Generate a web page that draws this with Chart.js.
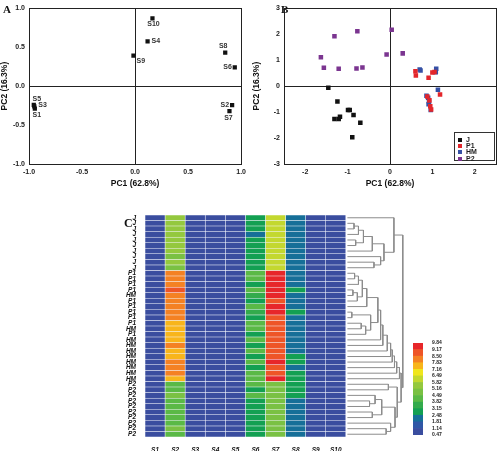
<!DOCTYPE html>
<html lang="en">
<head>
<meta charset="UTF-8">
<title>PCA loadings, scores and heatmap</title>
<script src="https://cdn.jsdelivr.net/npm/chart.js@4.4.0/dist/chart.umd.min.js"></script>
<style>
    body { margin: 0; background: #fff; }
    #page { position: relative; width: 500px; height: 451px; overflow: hidden; font-family: "Liberation Sans", Arial, sans-serif; }
    canvas { position: absolute; }
    #chartA { left: 0; top: 0; }
    #chartB { left: 250px; top: 0; }
    #chartC { left: 110px; top: 210px; }
    #scaleC { left: 413px; top: 339px; }
    .panel { position: absolute; font-family: "Liberation Serif", serif; font-weight: bold; font-size: 11px; color: #111; }
    #legendB {
        position: absolute; left: 454px; top: 132px; width: 41px; height: 29px;
        border: 1px solid #333; background: #fff; box-sizing: border-box;
        padding: 4px 0 0 3px; font-size: 7px; font-weight: bold; color: #222;
    }
    #legendB div { height: 6.2px; line-height: 6.2px; white-space: nowrap; }
    #legendB span { display: inline-block; width: 4px; height: 4px; margin-right: 4px; vertical-align: 0; }
</style>
</head>
<body>
<div id="page">
    <canvas id="chartA" width="250" height="195"></canvas>
    <canvas id="chartB" width="250" height="195"></canvas>
    <canvas id="chartC" width="296" height="241"></canvas>
    <canvas id="scaleC" width="30" height="100"></canvas>
    <div class="panel" style="left:3px;top:3px;">A</div>
    <div class="panel" style="left:281px;top:3px;">B</div>
    <div class="panel" style="left:124px;top:216px;font-size:12px;">C</div>
    <div id="legendB"></div>
</div>

<script>
// ---- A: loadings of the ten compounds ----
const loadNames = ['S1', 'S2', 'S3', 'S4', 'S5', 'S6', 'S7', 'S8', 'S9', 'S10'];
const loadPC1 = [-0.945, 0.915, -0.95, 0.118, -0.955, 0.94, 0.89, 0.85, -0.015, 0.164];
const loadPC2 = [-0.29, -0.245, -0.26, 0.575, -0.24, 0.24, -0.32, 0.43, 0.39, 0.87];
const ticksA = [-1, -0.5, 0, 0.5, 1];
// where each name sits next to its point: dx, dy, align
const labelSpots = [[2, 6, 'center'], [-3, 0, 'right'], [4, -1, 'left'], [4, 0, 'left'], [3, -6, 'center'],
                    [-3, 0, 'right'], [-1, 7, 'center'], [-2, -7, 'center'], [3, 5, 'left'], [1, 6, 'center']];

// ---- B: scores of the samples ----
const groupNames = ['J', 'P1', 'HM', 'P2'];
const groupColors = ['#111111', '#e3262b', '#3550a5', '#7b3590'];
const jPC1 = [-1.455, -1.24, -1.31, -1.21, -1.18, -0.99, -0.95, -0.86, -0.70, -0.89];
const jPC2 = [-0.06, -0.59, -1.27, -1.27, -1.18, -0.92, -0.92, -1.11, -1.41, -1.97];
const p1PC1 = [0.60, 0.61, 0.91, 1.00, 1.05, 1.18, 0.88, 0.93, 0.95, 0.97];
const p1PC2 = [0.57, 0.41, 0.32, 0.52, 0.54, -0.32, -0.40, -0.55, -0.78, -0.90];
const hmPC1 = [0.70, 0.72, 1.09, 1.08, 1.13, 0.86, 0.90, 0.92, 0.91, 0.96];
const hmPC2 = [0.64, 0.60, 0.67, 0.53, -0.14, -0.37, -0.45, -0.60, -0.70, -0.92];
const p2PC1 = [-1.63, -1.56, -1.31, -1.21, -0.77, -0.79, -0.65, -0.08, 0.04, 0.30];
const p2PC2 = [1.11, 0.71, 1.92, 0.67, 2.11, 0.68, 0.72, 1.22, 2.17, 1.26];
const ticksBx = [-2, -1, 0, 1, 2];
const ticksBy = [-3, -2, -1, 0, 1, 2, 3];

// ---- C: heatmap ----
const sampleNames = ['S1', 'S2', 'S3', 'S4', 'S5', 'S6', 'S7', 'S8', 'S9', 'S10'];
const rowLabels = ['J', 'J', 'J', 'J', 'J', 'J', 'J', 'J', 'J', 'J',
    'P1', 'P1', 'P1', 'P1', 'HM', 'P1', 'P1', 'P1', 'P1', 'P1',
    'HM', 'P1', 'HM', 'HM', 'HM', 'HM', 'HM', 'HM', 'HM', 'HM',
    'P2', 'P2', 'P2', 'P2', 'P2', 'P2', 'P2', 'P2', 'P2', 'P2'];
const s1 = [0.82, 0.80, 0.85, 0.79, 0.81, 0.83, 0.80, 0.78, 0.82, 0.84, 0.76, 0.79, 0.81, 0.78, 0.80, 0.77, 0.82, 0.79, 0.81, 0.78,
    0.80, 0.79, 0.82, 0.77, 0.80, 0.78, 0.81, 0.79, 0.80, 0.78, 0.83, 0.81, 0.84, 0.80, 0.82, 0.85, 0.81, 0.83, 0.80, 0.82];
const s2 = [5.3, 5.2, 5.2, 5.2, 5.3, 5.2, 5.2, 5.1, 5.2, 5.0, 8.2, 8.1, 8.2, 9.0, 8.2, 8.1, 8.2, 8.0, 8.1, 7.5,
    7.4, 7.5, 7.5, 8.1, 7.5, 7.4, 8.1, 8.2, 8.0, 7.5, 4.4, 4.4, 4.5, 4.3, 4.4, 4.2, 4.3, 4.4, 4.5, 4.3];
const s3 = [0.78, 0.81, 0.79, 0.83, 0.80, 0.77, 0.82, 0.80, 0.79, 0.81, 0.80, 0.78, 0.82, 0.79, 0.81, 0.80, 0.78, 0.83, 0.80, 0.79,
    0.81, 0.80, 0.78, 0.82, 0.79, 0.81, 0.80, 0.82, 0.78, 0.80, 0.79, 0.82, 0.80, 0.81, 0.78, 0.80, 0.83, 0.79, 0.81, 0.80];
const s4 = [0.84, 0.82, 0.80, 0.83, 0.81, 0.85, 0.82, 0.80, 0.84, 0.81, 0.79, 0.82, 0.80, 0.83, 0.81, 0.79, 0.80, 0.82, 0.78, 0.81,
    0.80, 0.83, 0.79, 0.81, 0.80, 0.82, 0.78, 0.80, 0.81, 0.79, 0.82, 0.80, 0.83, 0.81, 0.84, 0.80, 0.82, 0.81, 0.79, 0.83];
const s5 = [0.80, 0.79, 0.82, 0.81, 0.78, 0.80, 0.83, 0.79, 0.81, 0.80, 0.82, 0.80, 0.79, 0.81, 0.83, 0.80, 0.78, 0.81, 0.80, 0.82,
    0.79, 0.81, 0.80, 0.78, 0.82, 0.80, 0.81, 0.79, 0.83, 0.80, 0.81, 0.79, 0.80, 0.82, 0.80, 0.81, 0.79, 0.80, 0.82, 0.81];
const s6 = [2.9, 2.8, 3.0, 2.0, 2.9, 2.8, 3.0, 2.9, 3.0, 2.8, 3.9, 4.0, 2.9, 3.9, 3.8, 3.0, 3.9, 3.8, 3.0, 3.9,
    3.9, 3.0, 3.9, 3.0, 4.0, 3.0, 3.9, 3.0, 3.9, 4.0, 3.9, 2.9, 3.9, 2.9, 3.0, 2.9, 3.0, 2.9, 3.0, 2.9];
const s7 = [6.1, 6.2, 6.0, 6.1, 6.0, 6.2, 6.1, 6.0, 6.1, 5.9, 9.6, 9.5, 9.6, 9.5, 9.5, 9.0, 9.5, 9.4, 8.9, 9.0,
    8.9, 9.0, 8.9, 8.9, 9.0, 8.9, 9.6, 8.9, 9.0, 9.6, 5.0, 4.9, 5.1, 5.0, 4.9, 5.0, 5.1, 4.9, 5.0, 5.0];
const s8 = [2.0, 2.0, 2.0, 2.1, 2.0, 2.0, 2.1, 2.0, 2.0, 2.0, 2.0, 2.0, 2.1, 2.9, 2.0, 2.0, 2.1, 2.9, 2.0, 2.0,
    2.0, 2.1, 2.0, 2.0, 2.1, 2.9, 2.9, 2.0, 2.9, 2.9, 2.9, 2.9, 2.9, 2.0, 2.0, 2.1, 2.0, 2.0, 2.1, 2.0];
const s9 = [0.81, 0.83, 0.80, 0.79, 0.82, 0.80, 0.81, 0.83, 0.79, 0.80, 0.82, 0.81, 0.79, 0.80, 0.82, 0.81, 0.80, 0.78, 0.82, 0.80,
    0.81, 0.79, 0.80, 0.82, 0.81, 0.79, 0.80, 0.81, 0.82, 0.80, 0.80, 0.82, 0.79, 0.81, 0.80, 0.82, 0.80, 0.79, 0.81, 0.80];
const s10 = [0.79, 0.80, 0.82, 0.80, 0.81, 0.79, 0.80, 0.82, 0.81, 0.79, 0.80, 0.82, 0.80, 0.81, 0.79, 0.82, 0.81, 0.80, 0.79, 0.81,
    0.82, 0.80, 0.81, 0.79, 0.80, 0.81, 0.82, 0.80, 0.79, 0.81, 0.80, 0.81, 0.82, 0.79, 0.81, 0.80, 0.80, 0.82, 0.80, 0.79];
const columns = [s1, s2, s3, s4, s5, s6, s7, s8, s9, s10];

// colour key: band limits and the colour of each band (low to high)
const colorStops = [0.47, 1.14, 1.81, 2.48, 3.15, 3.82, 4.49, 5.16, 5.82, 6.49, 7.16, 7.83, 8.50, 9.17, 9.84];
const bandColors = ['#3a4d9f', '#2f57a6', '#166f98', '#13a052', '#33ab4c', '#5ab946', '#7ac143', '#94c83e',
    '#c3d82f', '#f0e61d', '#f8b51b', '#f48123', '#ee5527', '#e7262a'];

// row clustering: [left, right, height], leaves are row numbers
const j1 = [1, 2, 0.12], j2 = [j1, 3, 0.20], j3 = [4, 5, 0.15], j4 = [j2, j3, 0.29], j5 = [j4, 6, 0.45];
const j6 = [8, 9, 0.48], j7 = [7, j6, 0.60], j8 = [j5, j7, 0.66], jRoot = [0, j8, 0.84];
const p1 = [10, 11, 0.13], p2 = [p1, 12, 0.20], p3 = [13, 14, 0.10], p4 = [p3, 15, 0.18], p5 = [p2, p4, 0.27];
const p6 = [p5, 16, 0.35], p7 = [17, 18, 0.08], p8 = [19, 20, 0.25], p9 = [p8, 21, 0.33], p10 = [p7, p9, 0.42];
const p11 = [p6, p10, 0.55], p12 = [p11, 22, 0.60], p13 = [p12, 23, 0.64], p14 = [p13, 24, 0.72];
const p15 = [p14, 25, 0.78], p16 = [p15, 26, 0.81], p17 = [p16, 27, 0.85], p18 = [p17, 28, 0.89], pRoot = [p18, 29, 0.94];
const q1 = [30, 31, 0.74], q2 = [33, 34, 0.40], q3 = [32, q2, 0.50], q4 = [35, 36, 0.45], q5 = [q3, q4, 0.62];
const q6 = [38, 39, 0.70], q7 = [37, q6, 0.78], q8 = [q5, q7, 0.86], qRoot = [q1, q8, 0.90];
const tree = [jRoot, [pRoot, qRoot, 0.97], 1.0];

const dendroLeft = 10.08;   // x units, just right of the last column
const dendroSpan = 2.76;

const tickFont = { family: 'Liberation Sans', size: 7, weight: 'bold' };
const titleFont = { family: 'Liberation Sans', size: 8.5, weight: 'bold' };

function zeroLine(ctx) {
    return ctx.tick && ctx.tick.value === 0 ? '#222' : 'rgba(0,0,0,0)';
}

function pcaScales(xr, xt, yr, yt, fmt, yWidth, yTitlePad) {
    return {
        x: {
            type: 'linear', min: xr[0], max: xr[1],
            afterBuildTicks: s => { s.ticks = xt.map(v => ({ value: v })); },
            afterFit: s => { s.height = 31; },
            grid: { color: zeroLine, drawTicks: false },
            border: { color: '#222' },
            ticks: { font: tickFont, color: '#222', padding: 4, maxRotation: 0, callback: fmt },
            title: { display: true, text: 'PC1 (62.8%)', font: titleFont, color: '#111', padding: { top: 0, bottom: 6 } }
        },
        y: {
            type: 'linear', min: yr[0], max: yr[1],
            afterBuildTicks: s => { s.ticks = yt.map(v => ({ value: v })); },
            afterFit: s => { s.width = yWidth; },
            grid: { color: zeroLine, drawTicks: false },
            border: { color: '#222' },
            ticks: { font: tickFont, color: '#222', padding: 4, callback: fmt },
            title: { display: true, text: 'PC2 (16.3%)', font: titleFont, color: '#111', padding: { top: yTitlePad, bottom: 0 } }
        },
        xTop: {
            type: 'linear', position: 'top', min: xr[0], max: xr[1],
            afterFit: s => { s.height = 0; },
            grid: { display: false }, ticks: { display: false }, border: { color: '#222' }
        },
        yRight: {
            type: 'linear', position: 'right', min: yr[0], max: yr[1],
            afterFit: s => { s.width = 0; },
            grid: { display: false }, ticks: { display: false }, border: { color: '#222' }
        }
    };
}

function toPoints(xs, ys) {
    return xs.map((x, i) => ({ x: x, y: ys[i] }));
}

// names next to the loading points
const pointNames = {
    id: 'pointNames',
    afterDatasetsDraw(chart) {
        const ctx = chart.ctx;
        const meta = chart.getDatasetMeta(0);
        ctx.save();
        ctx.font = 'bold 7px "Liberation Sans"';
        ctx.fillStyle = '#333';
        ctx.textBaseline = 'middle';
        meta.data.forEach((pt, i) => {
            const spot = labelSpots[i];
            ctx.textAlign = spot[2];
            ctx.fillText(loadNames[i], pt.x + spot[0], pt.y + spot[1]);
        });
        ctx.restore();
    }
};

new Chart(document.getElementById('chartA'), {
    type: 'scatter',
    data: {
        datasets: [{
            data: toPoints(loadPC1, loadPC2),
            pointStyle: 'rect', pointRadius: 3, backgroundColor: '#111', borderWidth: 0
        }]
    },
    options: {
        responsive: false, animation: false,
        layout: { padding: { top: 5, right: 3, left: 0, bottom: 0 } },
        plugins: { legend: { display: false }, tooltip: { enabled: false } },
        scales: pcaScales([-1, 1], ticksA, [-1, 1], ticksA, v => v.toFixed(1), 29, 0)
    },
    plugins: [pointNames]
});

const scoreSets = [[jPC1, jPC2], [p1PC1, p1PC2], [hmPC1, hmPC2], [p2PC1, p2PC2]];

new Chart(document.getElementById('chartB'), {
    type: 'scatter',
    data: {
        datasets: scoreSets.map((s, i) => ({
            label: groupNames[i],
            data: toPoints(s[0], s[1]),
            pointStyle: 'rect', pointRadius: 3.2, backgroundColor: groupColors[i], borderWidth: 0
        }))
    },
    options: {
        responsive: false, animation: false,
        layout: { padding: { top: 4, right: 2, left: 0, bottom: 0 } },
        plugins: { legend: { display: false }, tooltip: { enabled: false } },
        scales: pcaScales([-2.5, 2.5], ticksBx, [-3, 3], ticksBy, v => v, 34, 1.5)
    }
});

// legend of panel B
document.getElementById('legendB').innerHTML = groupNames.map((g, i) =>
    '<div><span style="background:' + groupColors[i] + '"></span>' + g + '</div>').join('');

function cellColor(v) {
    for (let i = 0; i < bandColors.length; i++) {
        if (v < colorStops[i + 1]) return bandColors[i];
    }
    return bandColors[bandColors.length - 1];
}

// walk the tree and collect the elbow lines, a null point between branches
function dendroLines(node, out) {
    if (typeof node === 'number') return { y: node, h: 0 };
    const a = dendroLines(node[0], out);
    const b = dendroLines(node[1], out);
    const h = node[2];
    const px = t => dendroLeft + t * dendroSpan;
    out.push({ x: px(a.h), y: a.y }, { x: px(h), y: a.y }, { x: px(h), y: b.y }, { x: px(b.h), y: b.y }, { x: null, y: null });
    return { y: (a.y + b.y) / 2, h: h };
}
const dendroData = [];
dendroLines(tree, dendroData);

const heatFont = { family: 'Liberation Sans', size: 6.5, weight: 'bold', style: 'italic' };

new Chart(document.getElementById('chartC'), {
    type: 'bar',
    data: {
        datasets: columns.map((col, c) => ({
            type: 'bar',
            label: sampleNames[c],
            data: col.map((v, r) => ({ x: 1, y: r })),
            backgroundColor: col.map(cellColor),
            borderColor: 'rgba(235,238,248,0.35)',
            borderWidth: 0.6,
            borderSkipped: false,
            barPercentage: 1,
            categoryPercentage: 1
        })).concat([{
            type: 'line',
            indexAxis: 'x',
            data: dendroData,
            borderColor: '#8c8c8c',
            borderWidth: 1,
            pointRadius: 0,
            spanGaps: false
        }])
    },
    options: {
        indexAxis: 'y',
        responsive: false, animation: false,
        layout: { padding: { top: 5, right: 0, left: 0, bottom: 0 } },
        plugins: { legend: { display: false }, tooltip: { enabled: false } },
        scales: {
            x: {
                type: 'linear', stacked: true, min: 0, max: 13, offset: false,
                afterBuildTicks: s => { s.ticks = sampleNames.map((n, i) => ({ value: i + 0.5 })); },
                afterFit: s => { s.height = 14; },
                grid: { display: false }, border: { display: false },
                ticks: { font: heatFont, color: '#111', padding: 1, maxRotation: 0, autoSkip: false,
                         callback: v => sampleNames[Math.floor(v)] }
            },
            y: {
                type: 'linear', stacked: true, reverse: true, min: -0.5, max: 39.5, offset: false,
                afterBuildTicks: s => { s.ticks = rowLabels.map((n, i) => ({ value: i })); },
                afterFit: s => { s.width = 35; },
                grid: { display: false }, border: { display: false },
                ticks: { font: heatFont, color: '#111', padding: 1, autoSkip: false,
                         callback: v => rowLabels[v] }
            }
        }
    }
});

// colour key
new Chart(document.getElementById('scaleC'), {
    type: 'bar',
    data: {
        labels: ['key'],
        datasets: bandColors.map((col, i) => ({
            data: [[colorStops[i], colorStops[i + 1]]],
            backgroundColor: col,
            borderWidth: 0,
            grouped: false,
            barPercentage: 1,
            categoryPercentage: 1
        }))
    },
    options: {
        responsive: false, animation: false,
        layout: { padding: { top: 3, right: 0, left: 0, bottom: 3 } },
        plugins: { legend: { display: false }, tooltip: { enabled: false } },
        scales: {
            x: { display: false },
            y: {
                type: 'linear', position: 'right', min: colorStops[0], max: colorStops[colorStops.length - 1],
                afterBuildTicks: s => { s.ticks = colorStops.map(v => ({ value: v })); },
                afterFit: s => { s.width = 20; },
                grid: { display: false }, border: { display: false },
                ticks: { font: { family: 'Liberation Sans', size: 5, weight: 'bold' }, color: '#222', padding: 1,
                         autoSkip: false, callback: v => v.toFixed(2) }
            }
        }
    }
});
</script>
</body>
</html>
